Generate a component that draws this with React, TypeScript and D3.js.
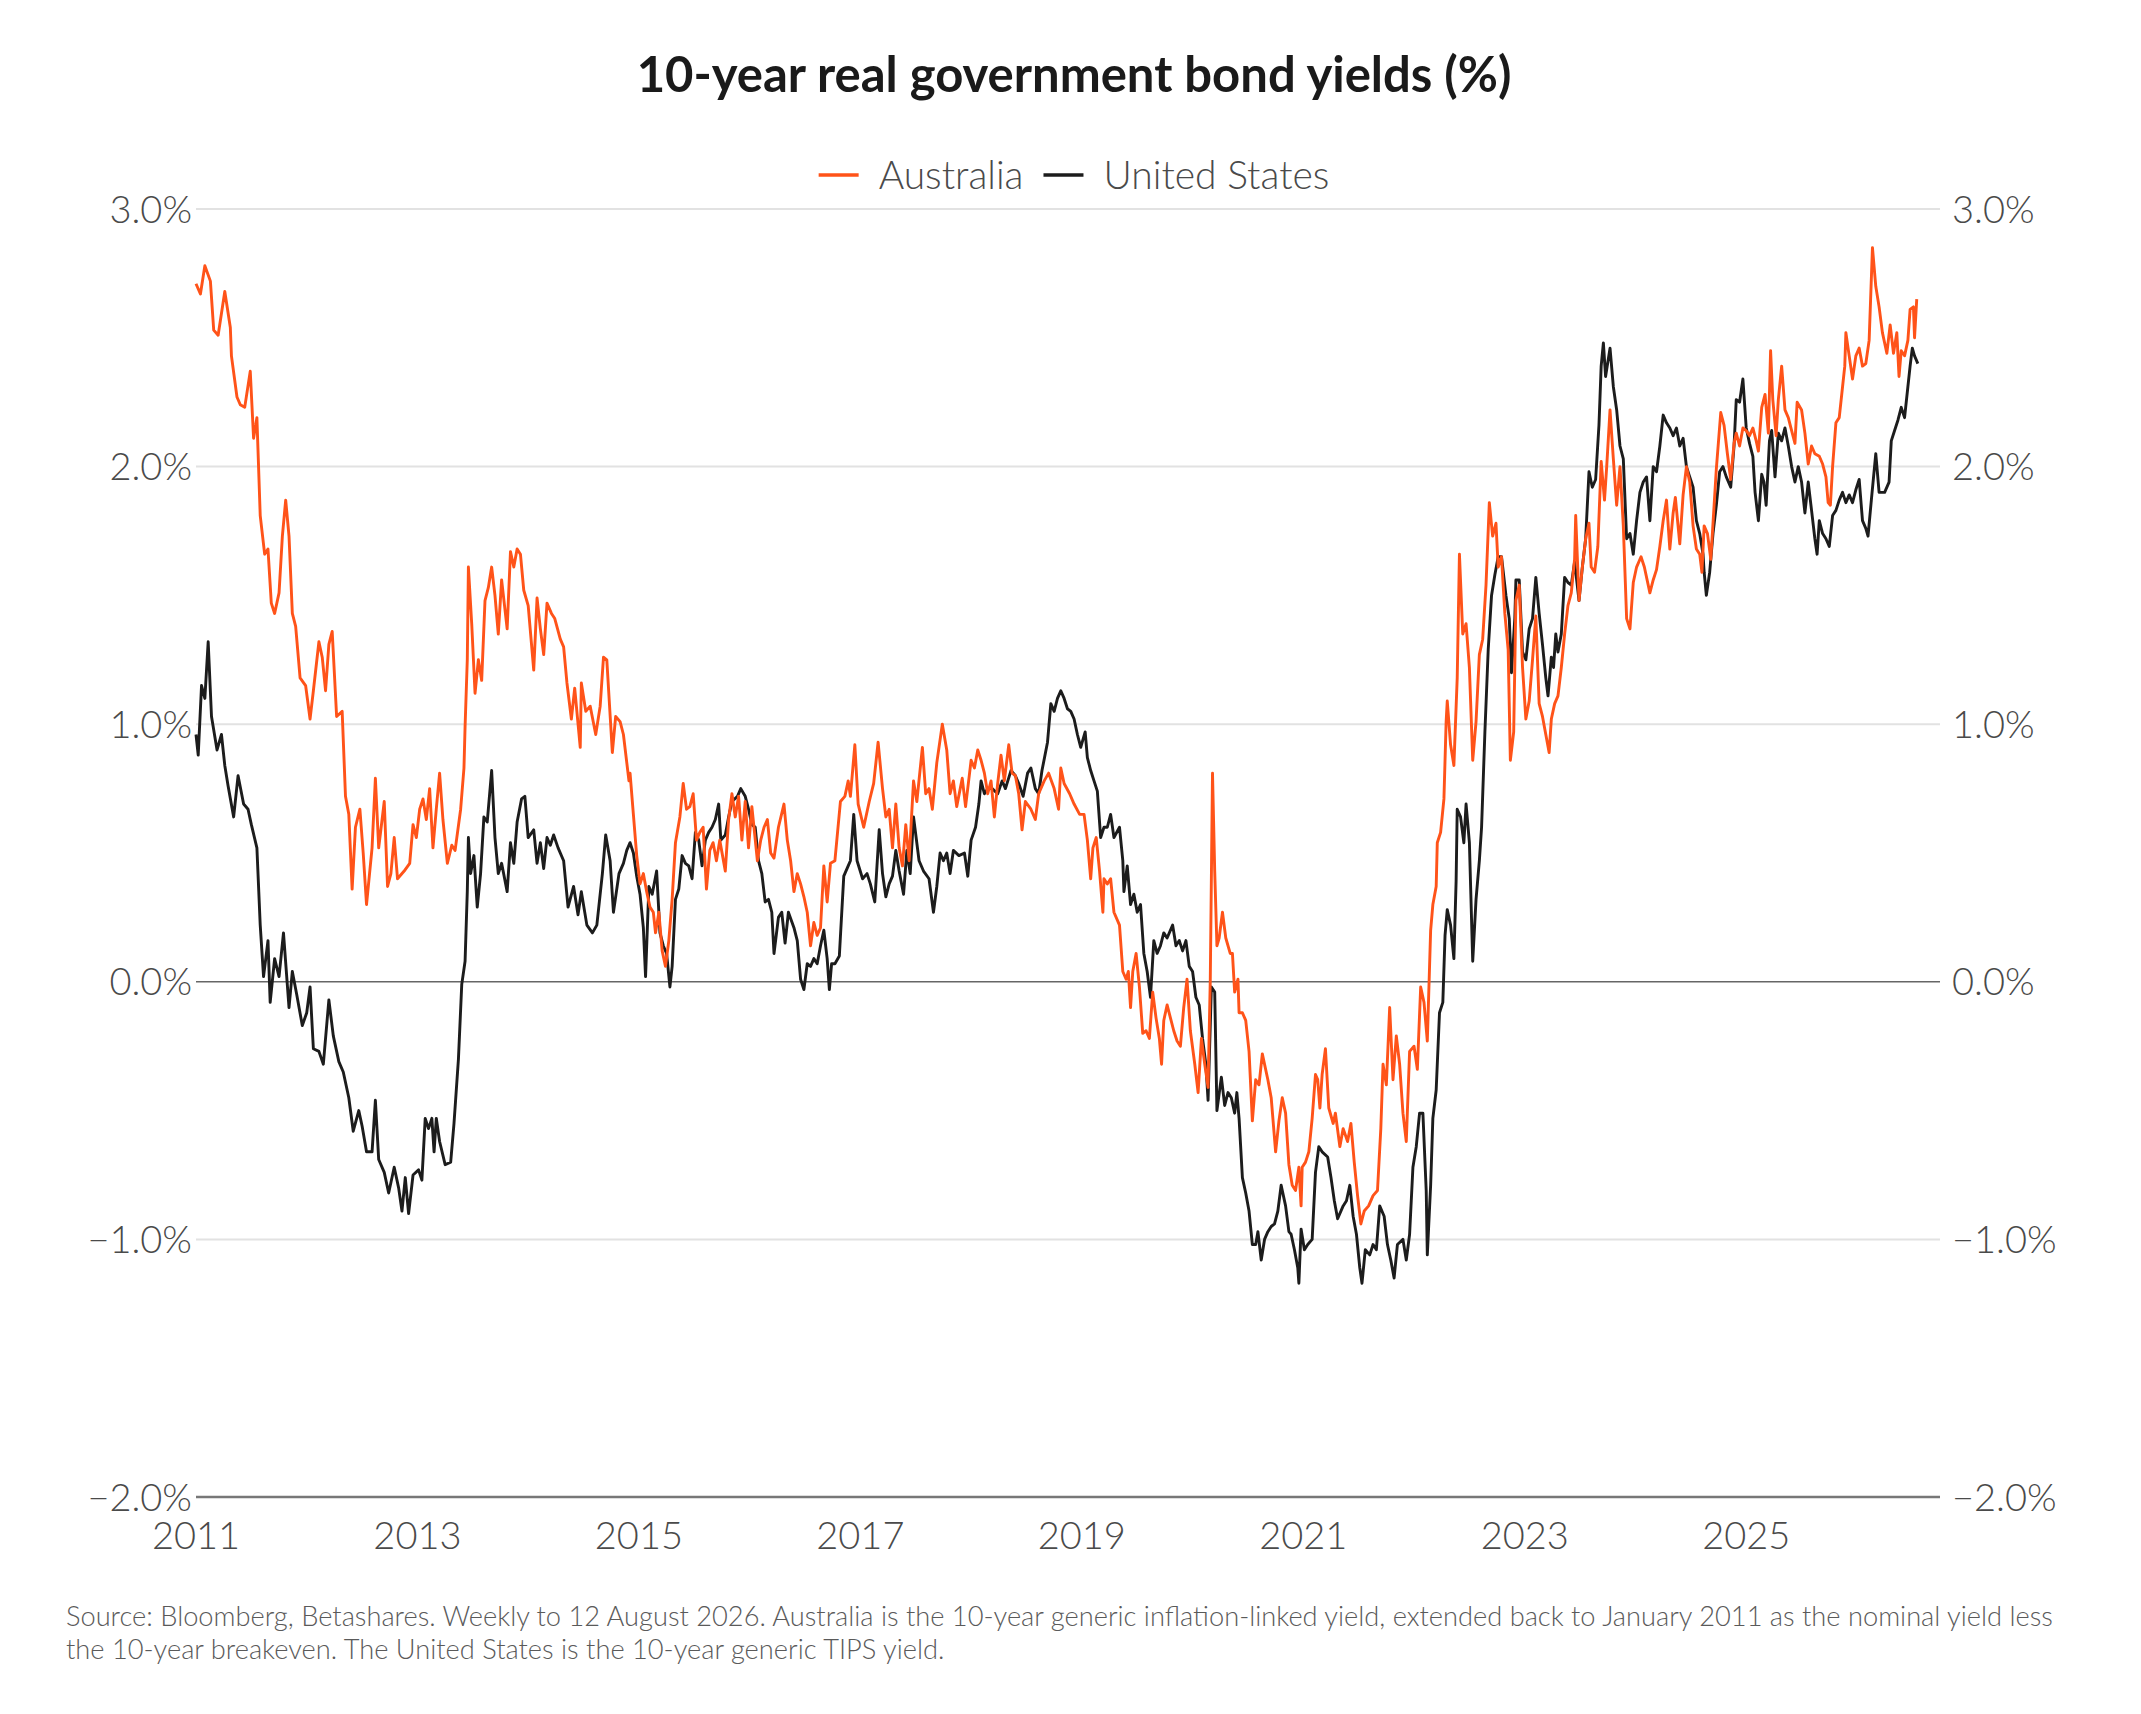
import { useEffect, useRef } from "react";
import * as d3 from "d3";

// decimal year, real yield (%)
const australia: [number, number][] = [
  [2011.0, 2.71], [2011.04, 2.67], [2011.08, 2.78], [2011.13, 2.72], [2011.16, 2.53], [2011.2, 2.51],
  [2011.26, 2.68], [2011.31, 2.54], [2011.32, 2.43], [2011.37, 2.27], [2011.4, 2.24], [2011.44, 2.23],
  [2011.49, 2.37], [2011.52, 2.11], [2011.55, 2.19], [2011.58, 1.81], [2011.62, 1.66], [2011.65, 1.68],
  [2011.68, 1.47], [2011.71, 1.43], [2011.75, 1.51], [2011.78, 1.73], [2011.81, 1.87], [2011.84, 1.73],
  [2011.87, 1.43], [2011.9, 1.38], [2011.94, 1.18], [2011.99, 1.15], [2012.03, 1.02], [2012.06, 1.13],
  [2012.11, 1.32], [2012.14, 1.26], [2012.17, 1.13], [2012.2, 1.31], [2012.23, 1.36], [2012.27, 1.03],
  [2012.32, 1.05], [2012.35, 0.72], [2012.38, 0.65], [2012.41, 0.36], [2012.44, 0.6], [2012.48, 0.67],
  [2012.51, 0.5], [2012.54, 0.3], [2012.59, 0.52], [2012.62, 0.79], [2012.65, 0.52], [2012.7, 0.7],
  [2012.73, 0.37], [2012.76, 0.42], [2012.79, 0.56], [2012.82, 0.4], [2012.88, 0.43],
  [2012.93, 0.46], [2012.96, 0.61], [2012.99, 0.56], [2013.02, 0.67], [2013.05, 0.71], [2013.08, 0.63],
  [2013.11, 0.75], [2013.14, 0.52], [2013.17, 0.67], [2013.2, 0.81], [2013.23, 0.63], [2013.27, 0.46],
  [2013.31, 0.53], [2013.34, 0.51], [2013.39, 0.67], [2013.42, 0.83], [2013.43, 0.99], [2013.45, 1.25],
  [2013.46, 1.61], [2013.49, 1.39], [2013.52, 1.12], [2013.55, 1.25], [2013.58, 1.17], [2013.61, 1.48],
  [2013.64, 1.53], [2013.67, 1.61], [2013.7, 1.5], [2013.73, 1.35], [2013.76, 1.56], [2013.81, 1.37],
  [2013.84, 1.67], [2013.87, 1.61], [2013.9, 1.68], [2013.93, 1.66], [2013.96, 1.52], [2014.0, 1.46],
  [2014.05, 1.21], [2014.08, 1.49], [2014.11, 1.37], [2014.14, 1.27], [2014.17, 1.47], [2014.21, 1.43],
  [2014.24, 1.41], [2014.29, 1.33], [2014.32, 1.3], [2014.35, 1.16], [2014.39, 1.02], [2014.42, 1.14],
  [2014.47, 0.91], [2014.48, 1.16], [2014.52, 1.05], [2014.56, 1.07], [2014.61, 0.96], [2014.65, 1.07],
  [2014.68, 1.26], [2014.71, 1.25], [2014.76, 0.89], [2014.79, 1.03], [2014.83, 1.01], [2014.86, 0.96],
  [2014.91, 0.78], [2014.92, 0.81], [2014.95, 0.65], [2014.98, 0.49], [2015.01, 0.38], [2015.04, 0.42],
  [2015.07, 0.35], [2015.1, 0.29], [2015.13, 0.27], [2015.15, 0.19], [2015.18, 0.27], [2015.21, 0.12],
  [2015.24, 0.06], [2015.27, 0.16], [2015.3, 0.32], [2015.33, 0.54], [2015.37, 0.64], [2015.4, 0.77],
  [2015.43, 0.67], [2015.46, 0.68], [2015.49, 0.73], [2015.52, 0.55], [2015.55, 0.58], [2015.58, 0.6],
  [2015.61, 0.36], [2015.64, 0.51], [2015.67, 0.54], [2015.7, 0.47], [2015.73, 0.55], [2015.78, 0.43],
  [2015.81, 0.63], [2015.84, 0.73], [2015.87, 0.64], [2015.9, 0.72], [2015.93, 0.55], [2015.96, 0.7],
  [2015.99, 0.52], [2016.02, 0.68], [2016.07, 0.47], [2016.1, 0.55], [2016.13, 0.6], [2016.16, 0.63],
  [2016.19, 0.5], [2016.22, 0.48], [2016.26, 0.6], [2016.31, 0.69], [2016.34, 0.55], [2016.37, 0.47],
  [2016.4, 0.35], [2016.43, 0.42], [2016.46, 0.38], [2016.49, 0.33], [2016.52, 0.27], [2016.55, 0.14],
  [2016.58, 0.23], [2016.61, 0.18], [2016.64, 0.21], [2016.67, 0.45], [2016.7, 0.31], [2016.73, 0.46],
  [2016.77, 0.47], [2016.82, 0.7], [2016.86, 0.72], [2016.89, 0.78],
  [2016.91, 0.72], [2016.95, 0.92], [2016.98, 0.69], [2017.03, 0.6], [2017.08, 0.7], [2017.12, 0.77],
  [2017.16, 0.93], [2017.2, 0.75], [2017.23, 0.64], [2017.26, 0.67], [2017.29, 0.52], [2017.32, 0.69],
  [2017.35, 0.52], [2017.38, 0.45], [2017.41, 0.61], [2017.44, 0.47], [2017.48, 0.78], [2017.51, 0.7],
  [2017.56, 0.91], [2017.59, 0.73], [2017.62, 0.75], [2017.65, 0.67], [2017.69, 0.85], [2017.74, 1.0],
  [2017.78, 0.9], [2017.81, 0.73], [2017.84, 0.78], [2017.87, 0.68], [2017.92, 0.79], [2017.95, 0.68],
  [2018.0, 0.86], [2018.03, 0.83], [2018.06, 0.9], [2018.09, 0.86], [2018.12, 0.81], [2018.15, 0.73],
  [2018.18, 0.78], [2018.21, 0.64], [2018.24, 0.77], [2018.27, 0.88], [2018.3, 0.78], [2018.34, 0.92],
  [2018.37, 0.81], [2018.4, 0.8], [2018.43, 0.73], [2018.46, 0.59], [2018.49, 0.7], [2018.54, 0.67],
  [2018.58, 0.63], [2018.61, 0.73], [2018.66, 0.78], [2018.7, 0.81], [2018.75, 0.75], [2018.79, 0.67],
  [2018.81, 0.83], [2018.84, 0.77], [2018.89, 0.73],
  [2018.93, 0.69], [2018.98, 0.65], [2019.02, 0.65], [2019.05, 0.55], [2019.08, 0.4], [2019.1, 0.52],
  [2019.13, 0.56], [2019.16, 0.43], [2019.19, 0.27], [2019.2, 0.4], [2019.23, 0.38], [2019.26, 0.4],
  [2019.29, 0.27], [2019.34, 0.22], [2019.37, 0.04], [2019.4, 0.01], [2019.42, 0.04], [2019.44, -0.1],
  [2019.46, 0.04], [2019.49, 0.11], [2019.52, -0.02], [2019.55, -0.2], [2019.58, -0.19], [2019.61, -0.22],
  [2019.64, -0.04], [2019.67, -0.14], [2019.7, -0.22], [2019.72, -0.32], [2019.74, -0.15], [2019.77, -0.09],
  [2019.8, -0.14], [2019.83, -0.19], [2019.86, -0.23], [2019.89, -0.25], [2019.92, -0.1], [2019.95, 0.01],
  [2019.98, -0.19], [2020.02, -0.32], [2020.05, -0.43], [2020.08, -0.22], [2020.11, -0.32], [2020.14, -0.41],
  [2020.16, 0.01], [2020.18, 0.81], [2020.2, 0.43], [2020.22, 0.14], [2020.24, 0.17], [2020.27, 0.27],
  [2020.3, 0.17], [2020.34, 0.11], [2020.36, 0.11], [2020.38, -0.04], [2020.41, 0.01], [2020.42, -0.12],
  [2020.45, -0.12], [2020.48, -0.15], [2020.51, -0.27], [2020.54, -0.54], [2020.57, -0.38], [2020.6, -0.4],
  [2020.63, -0.28], [2020.68, -0.38], [2020.71, -0.45], [2020.75, -0.66], [2020.78, -0.54], [2020.81, -0.45],
  [2020.84, -0.51], [2020.87, -0.71],
  [2020.9, -0.79], [2020.93, -0.81], [2020.96, -0.72], [2020.98, -0.87], [2020.99, -0.72], [2021.02, -0.7],
  [2021.05, -0.66], [2021.08, -0.53], [2021.11, -0.36], [2021.13, -0.38], [2021.15, -0.49], [2021.17, -0.36],
  [2021.2, -0.26], [2021.23, -0.49], [2021.27, -0.55], [2021.29, -0.51], [2021.33, -0.64], [2021.36, -0.57],
  [2021.4, -0.62], [2021.43, -0.55], [2021.46, -0.7], [2021.49, -0.83], [2021.52, -0.94], [2021.55, -0.89],
  [2021.59, -0.87], [2021.63, -0.83], [2021.67, -0.81], [2021.7, -0.57], [2021.72, -0.32], [2021.75, -0.4],
  [2021.78, -0.1], [2021.81, -0.38], [2021.84, -0.21], [2021.87, -0.32], [2021.9, -0.51], [2021.93, -0.62],
  [2021.96, -0.27], [2022.0, -0.25], [2022.03, -0.34], [2022.06, -0.02], [2022.09, -0.08], [2022.12, -0.23],
  [2022.15, 0.2], [2022.17, 0.3], [2022.2, 0.37], [2022.21, 0.54], [2022.24, 0.58], [2022.27, 0.71],
  [2022.29, 1.01], [2022.3, 1.09], [2022.33, 0.92], [2022.36, 0.84], [2022.39, 1.18], [2022.41, 1.66],
  [2022.44, 1.35], [2022.47, 1.39], [2022.5, 1.22], [2022.53, 0.86], [2022.56, 1.01], [2022.59, 1.27],
  [2022.62, 1.33], [2022.65, 1.54], [2022.68, 1.86], [2022.71, 1.73], [2022.74, 1.78], [2022.76, 1.61],
  [2022.79, 1.65], [2022.82, 1.43], [2022.85, 1.29], [2022.87, 0.86], [2022.9, 0.97],
  [2022.92, 1.48], [2022.95, 1.54], [2022.98, 1.22], [2023.01, 1.02], [2023.04, 1.09], [2023.07, 1.25],
  [2023.1, 1.42], [2023.13, 1.08], [2023.16, 1.03], [2023.19, 0.96], [2023.22, 0.89], [2023.24, 1.02],
  [2023.27, 1.08], [2023.3, 1.11], [2023.33, 1.22], [2023.36, 1.35], [2023.39, 1.46], [2023.42, 1.51],
  [2023.45, 1.64], [2023.46, 1.81], [2023.49, 1.48], [2023.52, 1.61], [2023.55, 1.72], [2023.58, 1.78],
  [2023.6, 1.61], [2023.63, 1.59], [2023.66, 1.69], [2023.69, 2.02], [2023.72, 1.87], [2023.74, 2.0],
  [2023.77, 2.22], [2023.8, 2.03], [2023.83, 1.85], [2023.86, 2.0], [2023.89, 1.77], [2023.92, 1.41],
  [2023.95, 1.37], [2023.98, 1.55], [2024.01, 1.61], [2024.05, 1.65], [2024.08, 1.61], [2024.13, 1.51],
  [2024.16, 1.56], [2024.19, 1.6], [2024.22, 1.69], [2024.25, 1.79], [2024.28, 1.87], [2024.31, 1.68],
  [2024.34, 1.82], [2024.36, 1.88], [2024.4, 1.7], [2024.43, 1.89], [2024.46, 2.0], [2024.49, 1.94],
  [2024.52, 1.77], [2024.55, 1.68], [2024.58, 1.66], [2024.6, 1.59], [2024.62, 1.77], [2024.65, 1.74],
  [2024.68, 1.64], [2024.71, 1.85], [2024.73, 1.99], [2024.77, 2.21], [2024.8, 2.16], [2024.83, 2.05],
  [2024.86, 1.95], [2024.89, 2.09],
  [2024.91, 2.13], [2024.94, 2.08], [2024.97, 2.15], [2025.0, 2.14], [2025.03, 2.12], [2025.06, 2.15],
  [2025.09, 2.1], [2025.11, 2.06], [2025.14, 2.23], [2025.17, 2.28], [2025.2, 2.13], [2025.22, 2.45],
  [2025.24, 2.26], [2025.27, 2.12], [2025.29, 2.26], [2025.32, 2.39], [2025.35, 2.22], [2025.38, 2.19],
  [2025.41, 2.14], [2025.44, 2.09], [2025.46, 2.25], [2025.5, 2.22], [2025.53, 2.13], [2025.56, 2.01],
  [2025.59, 2.08], [2025.62, 2.05], [2025.66, 2.04], [2025.69, 2.01], [2025.72, 1.96], [2025.74, 1.86],
  [2025.76, 1.85], [2025.78, 2.0], [2025.81, 2.17], [2025.84, 2.19], [2025.87, 2.31], [2025.89, 2.39],
  [2025.9, 2.52], [2025.93, 2.43], [2025.96, 2.34], [2025.99, 2.43], [2026.02, 2.46], [2026.05, 2.39],
  [2026.08, 2.4], [2026.11, 2.49], [2026.14, 2.85], [2026.17, 2.7], [2026.2, 2.62], [2026.23, 2.52],
  [2026.27, 2.44], [2026.3, 2.55], [2026.33, 2.44], [2026.36, 2.52], [2026.38, 2.35], [2026.4, 2.45],
  [2026.43, 2.43], [2026.46, 2.49], [2026.48, 2.61], [2026.51, 2.62], [2026.52, 2.5], [2026.54, 2.65],
];

const unitedStates: [number, number][] = [
  [2011.0, 0.96], [2011.02, 0.88], [2011.05, 1.15], [2011.08, 1.1], [2011.11, 1.32], [2011.14, 1.03],
  [2011.19, 0.9], [2011.23, 0.96], [2011.26, 0.84], [2011.29, 0.76], [2011.34, 0.64], [2011.38, 0.8],
  [2011.43, 0.69], [2011.47, 0.67], [2011.5, 0.61], [2011.55, 0.52], [2011.58, 0.22], [2011.61, 0.02],
  [2011.65, 0.16], [2011.67, -0.08], [2011.71, 0.09], [2011.75, 0.02], [2011.79, 0.19], [2011.84, -0.1],
  [2011.87, 0.04], [2011.91, -0.05], [2011.96, -0.17], [2012.0, -0.12], [2012.03, -0.02], [2012.06, -0.26],
  [2012.11, -0.27], [2012.15, -0.32], [2012.2, -0.07], [2012.24, -0.21], [2012.29, -0.31], [2012.33, -0.35],
  [2012.38, -0.45], [2012.42, -0.58], [2012.47, -0.5], [2012.5, -0.56], [2012.54, -0.66], [2012.59, -0.66],
  [2012.62, -0.46], [2012.65, -0.69], [2012.7, -0.74], [2012.74, -0.82], [2012.79, -0.72], [2012.83, -0.8],
  [2012.86, -0.89], [2012.89, -0.76], [2012.92, -0.9],
  [2012.96, -0.75], [2013.01, -0.73], [2013.04, -0.77], [2013.07, -0.53], [2013.1, -0.57], [2013.13, -0.53],
  [2013.15, -0.66], [2013.17, -0.53], [2013.2, -0.62], [2013.25, -0.71], [2013.3, -0.7], [2013.33, -0.55],
  [2013.37, -0.3], [2013.4, -0.01], [2013.43, 0.08], [2013.45, 0.35], [2013.46, 0.56], [2013.48, 0.42],
  [2013.51, 0.49], [2013.54, 0.29], [2013.57, 0.42], [2013.6, 0.64], [2013.63, 0.62], [2013.67, 0.82],
  [2013.7, 0.56], [2013.73, 0.42], [2013.76, 0.46], [2013.81, 0.35], [2013.84, 0.54], [2013.87, 0.46],
  [2013.9, 0.62], [2013.94, 0.71], [2013.97, 0.72], [2014.0, 0.56], [2014.05, 0.59], [2014.08, 0.46],
  [2014.11, 0.54], [2014.14, 0.44], [2014.17, 0.56], [2014.2, 0.53], [2014.23, 0.57], [2014.27, 0.52],
  [2014.32, 0.47], [2014.36, 0.29], [2014.41, 0.37], [2014.45, 0.26], [2014.48, 0.35], [2014.53, 0.22],
  [2014.58, 0.19], [2014.62, 0.22], [2014.67, 0.42], [2014.7, 0.57], [2014.74, 0.47], [2014.77, 0.27],
  [2014.82, 0.42], [2014.86, 0.46], [2014.89, 0.51],
  [2014.92, 0.54], [2014.95, 0.5], [2014.98, 0.41], [2015.01, 0.34], [2015.04, 0.21], [2015.06, 0.02],
  [2015.09, 0.37], [2015.12, 0.34], [2015.16, 0.43], [2015.19, 0.19], [2015.22, 0.14], [2015.25, 0.11],
  [2015.28, -0.02], [2015.3, 0.06], [2015.33, 0.32], [2015.36, 0.36], [2015.39, 0.49], [2015.42, 0.46],
  [2015.45, 0.45], [2015.48, 0.4], [2015.51, 0.58], [2015.54, 0.55], [2015.57, 0.45], [2015.6, 0.55],
  [2015.63, 0.58], [2015.66, 0.6], [2015.69, 0.63], [2015.72, 0.69], [2015.74, 0.55], [2015.78, 0.57],
  [2015.81, 0.64], [2015.84, 0.7], [2015.89, 0.72], [2015.92, 0.75], [2015.96, 0.72], [2015.99, 0.67],
  [2016.02, 0.61], [2016.05, 0.6], [2016.08, 0.47], [2016.11, 0.42], [2016.14, 0.31], [2016.17, 0.32],
  [2016.2, 0.27], [2016.22, 0.11], [2016.26, 0.25], [2016.29, 0.27], [2016.32, 0.15], [2016.35, 0.27],
  [2016.4, 0.21], [2016.43, 0.16], [2016.46, 0.01], [2016.49, -0.03], [2016.52, 0.07], [2016.55, 0.06],
  [2016.58, 0.09], [2016.61, 0.07], [2016.64, 0.14], [2016.67, 0.2], [2016.7, 0.09], [2016.72, -0.03],
  [2016.74, 0.07], [2016.77, 0.07], [2016.81, 0.1], [2016.85, 0.41], [2016.89, 0.45],
  [2016.91, 0.47], [2016.94, 0.65], [2016.97, 0.47], [2017.02, 0.4], [2017.06, 0.42], [2017.09, 0.38],
  [2017.13, 0.31], [2017.17, 0.59], [2017.2, 0.42], [2017.23, 0.33], [2017.26, 0.38], [2017.29, 0.41],
  [2017.32, 0.51], [2017.35, 0.43], [2017.39, 0.34], [2017.42, 0.51], [2017.45, 0.42], [2017.48, 0.64],
  [2017.53, 0.47], [2017.57, 0.43], [2017.62, 0.4], [2017.66, 0.27], [2017.69, 0.37], [2017.72, 0.5],
  [2017.75, 0.47], [2017.78, 0.5], [2017.81, 0.42], [2017.84, 0.51], [2017.89, 0.49], [2017.94, 0.5],
  [2017.97, 0.41], [2018.0, 0.55], [2018.04, 0.6], [2018.07, 0.69], [2018.09, 0.78], [2018.12, 0.73],
  [2018.15, 0.75], [2018.19, 0.75], [2018.24, 0.73], [2018.28, 0.78], [2018.31, 0.75], [2018.36, 0.82],
  [2018.4, 0.8], [2018.43, 0.77], [2018.47, 0.72], [2018.51, 0.81], [2018.54, 0.83], [2018.58, 0.75],
  [2018.61, 0.73], [2018.64, 0.82], [2018.69, 0.93], [2018.72, 1.08], [2018.75, 1.05], [2018.78, 1.1],
  [2018.81, 1.13], [2018.84, 1.1], [2018.87, 1.06],
  [2018.9, 1.05], [2018.93, 1.02], [2018.96, 0.96], [2018.99, 0.91], [2019.03, 0.97], [2019.05, 0.87],
  [2019.08, 0.82], [2019.11, 0.78], [2019.14, 0.74], [2019.17, 0.56], [2019.2, 0.6], [2019.23, 0.6],
  [2019.26, 0.65], [2019.29, 0.56], [2019.34, 0.6], [2019.37, 0.47], [2019.38, 0.35], [2019.41, 0.45],
  [2019.44, 0.3], [2019.47, 0.34], [2019.5, 0.27], [2019.53, 0.3], [2019.56, 0.11], [2019.59, 0.04],
  [2019.62, -0.06], [2019.65, 0.16], [2019.68, 0.11], [2019.71, 0.14], [2019.74, 0.19], [2019.77, 0.17],
  [2019.82, 0.22], [2019.85, 0.14], [2019.88, 0.16], [2019.91, 0.12], [2019.94, 0.16], [2019.97, 0.06],
  [2020.0, 0.04], [2020.03, -0.06], [2020.06, -0.09], [2020.09, -0.22], [2020.12, -0.32], [2020.14, -0.46],
  [2020.17, -0.02], [2020.2, -0.04], [2020.22, -0.5], [2020.26, -0.37], [2020.29, -0.48], [2020.32, -0.43],
  [2020.35, -0.45], [2020.38, -0.51], [2020.4, -0.43], [2020.42, -0.53], [2020.45, -0.76], [2020.48, -0.82],
  [2020.51, -0.89], [2020.54, -1.02], [2020.57, -1.02], [2020.59, -0.97], [2020.62, -1.08], [2020.65, -1.0],
  [2020.68, -0.97], [2020.71, -0.95], [2020.74, -0.94], [2020.77, -0.89], [2020.8, -0.79], [2020.84, -0.87],
  [2020.87, -0.97],
  [2020.89, -0.98], [2020.92, -1.04], [2020.95, -1.11], [2020.96, -1.17], [2020.98, -0.96], [2021.01, -1.04],
  [2021.04, -1.02], [2021.08, -1.0], [2021.11, -0.74], [2021.14, -0.64], [2021.17, -0.66], [2021.22, -0.68],
  [2021.25, -0.76], [2021.28, -0.85], [2021.31, -0.92], [2021.36, -0.87], [2021.39, -0.85], [2021.42, -0.79],
  [2021.45, -0.91], [2021.48, -0.98], [2021.51, -1.11], [2021.53, -1.17], [2021.56, -1.04], [2021.6, -1.06],
  [2021.63, -1.02], [2021.66, -1.04], [2021.69, -0.87], [2021.73, -0.91], [2021.76, -1.02], [2021.79, -1.08],
  [2021.82, -1.15], [2021.85, -1.02], [2021.9, -1.0], [2021.93, -1.08], [2021.96, -0.98], [2021.99, -0.72],
  [2022.02, -0.64], [2022.05, -0.51], [2022.08, -0.51], [2022.11, -0.81], [2022.12, -1.06], [2022.15, -0.79],
  [2022.17, -0.53], [2022.2, -0.42], [2022.23, -0.12], [2022.26, -0.08], [2022.28, 0.18], [2022.3, 0.28],
  [2022.33, 0.22], [2022.36, 0.09], [2022.38, 0.39], [2022.39, 0.67], [2022.42, 0.64], [2022.45, 0.54],
  [2022.47, 0.69], [2022.5, 0.54], [2022.53, 0.08], [2022.56, 0.32], [2022.59, 0.47], [2022.61, 0.6],
  [2022.64, 0.97], [2022.67, 1.29], [2022.7, 1.5], [2022.73, 1.58], [2022.76, 1.65], [2022.79, 1.65],
  [2022.83, 1.5], [2022.86, 1.41], [2022.88, 1.2], [2022.91, 1.41],
  [2022.92, 1.56], [2022.95, 1.56], [2022.98, 1.28], [2023.01, 1.25], [2023.04, 1.37], [2023.07, 1.41],
  [2023.1, 1.57], [2023.13, 1.43], [2023.16, 1.31], [2023.19, 1.18], [2023.21, 1.11], [2023.24, 1.26],
  [2023.26, 1.22], [2023.28, 1.35], [2023.3, 1.28], [2023.33, 1.35], [2023.36, 1.57], [2023.39, 1.55],
  [2023.42, 1.54], [2023.45, 1.63], [2023.49, 1.48], [2023.52, 1.61], [2023.55, 1.72], [2023.58, 1.98],
  [2023.61, 1.92], [2023.64, 1.95], [2023.67, 2.16], [2023.69, 2.39], [2023.71, 2.48], [2023.73, 2.35],
  [2023.77, 2.46], [2023.8, 2.31], [2023.83, 2.22], [2023.86, 2.08], [2023.89, 2.03], [2023.92, 1.72],
  [2023.95, 1.74], [2023.98, 1.66], [2024.01, 1.79], [2024.04, 1.9], [2024.07, 1.94], [2024.1, 1.96],
  [2024.13, 1.79], [2024.16, 2.0], [2024.19, 1.98], [2024.22, 2.08], [2024.25, 2.2], [2024.28, 2.17],
  [2024.31, 2.15], [2024.34, 2.12], [2024.37, 2.15], [2024.4, 2.08], [2024.43, 2.11], [2024.46, 2.0],
  [2024.49, 1.96], [2024.52, 1.92], [2024.55, 1.79], [2024.58, 1.74], [2024.61, 1.66], [2024.62, 1.59],
  [2024.64, 1.5], [2024.67, 1.59], [2024.7, 1.74], [2024.73, 1.85], [2024.76, 1.98], [2024.79, 2.0],
  [2024.82, 1.96], [2024.86, 1.92], [2024.89, 2.08],
  [2024.91, 2.26], [2024.94, 2.25], [2024.97, 2.34], [2025.0, 2.15], [2025.03, 2.09], [2025.06, 2.04],
  [2025.08, 1.9], [2025.11, 1.79], [2025.14, 1.97], [2025.16, 1.94], [2025.18, 1.85], [2025.21, 2.1],
  [2025.23, 2.14], [2025.26, 1.96], [2025.29, 2.13], [2025.32, 2.1], [2025.35, 2.15], [2025.38, 2.08],
  [2025.41, 2.0], [2025.44, 1.94], [2025.47, 2.0], [2025.5, 1.94], [2025.53, 1.82], [2025.56, 1.94],
  [2025.59, 1.83], [2025.62, 1.72], [2025.64, 1.66], [2025.66, 1.79], [2025.69, 1.74], [2025.72, 1.72],
  [2025.75, 1.69], [2025.78, 1.81], [2025.81, 1.83], [2025.84, 1.87], [2025.87, 1.9], [2025.9, 1.86],
  [2025.93, 1.89], [2025.96, 1.86], [2025.99, 1.91], [2026.02, 1.95], [2026.05, 1.79], [2026.08, 1.76],
  [2026.1, 1.73], [2026.13, 1.87], [2026.17, 2.05], [2026.2, 1.9], [2026.25, 1.9], [2026.29, 1.94],
  [2026.31, 2.1], [2026.34, 2.14], [2026.37, 2.18], [2026.4, 2.23], [2026.43, 2.19], [2026.46, 2.31],
  [2026.48, 2.39], [2026.5, 2.46], [2026.52, 2.43], [2026.55, 2.4],
];

const yTicks = [3, 2, 1, 0, -1, -2];
const xTickYears = [2011, 2013, 2015, 2017, 2019, 2021, 2023, 2025];
const seriesNames = ["Australia", "United States"];
const seriesColors = ["#ff5319", "#1c1c1c"];

const title = "10-year real government bond yields (%)";
const sourceLines = [
  "Source: Bloomberg, Betashares. Weekly to 12 August 2026. Australia is the 10-year generic inflation-linked yield, extended back to January 2011 as the nominal yield less",
  "the 10-year breakeven. The United States is the 10-year generic TIPS yield.",
];

const WIDTH = 2141;
const HEIGHT = 1714;
const FONT = "Lato, 'Noto Sans', sans-serif";

export default function App() {
  const svgRef = useRef<SVGSVGElement>(null);

  useEffect(() => {
    document.body.style.margin = "0";
    if (!svgRef.current) return;

    const svg = d3.select(svgRef.current);
    svg.selectAll("*").remove();
    svg.attr("width", WIDTH).attr("height", HEIGHT).style("background", "#fff");

    const left = 196;
    const right = 1940;

    const xScale = d3.scaleLinear().domain([2011, 2026.75]).range([left, right]);
    const yScale = d3.scaleLinear().domain([-2, 3]).range([1497, 209]);

    // title
    svg
      .append("text")
      .attr("x", 1074)
      .attr("y", 92)
      .attr("text-anchor", "middle")
      .attr("font-family", FONT)
      .attr("font-weight", 700)
      .attr("font-size", 49)
      .attr("fill", "#1a1a1a")
      .text(title);

    // grid lines
    svg
      .append("g")
      .selectAll("line")
      .data(yTicks)
      .join("line")
      .attr("x1", left)
      .attr("x2", right)
      .attr("y1", (d) => yScale(d))
      .attr("y2", (d) => yScale(d))
      .attr("stroke", (d) => (d === 0 ? "#666" : d === -2 ? "#777" : "#e2e2e2"))
      .attr("stroke-width", (d) => (d === -2 ? 2.5 : d === 0 ? 1.5 : 2));

    const fmt = (d: number) => d3.format(".1f")(d) + "%";

    // left and right y labels
    const yLabels = svg
      .append("g")
      .attr("font-family", FONT)
      .attr("font-weight", 300)
      .attr("font-size", 38)
      .attr("fill", "#4a4a4a");
    yLabels
      .selectAll("text.l")
      .data(yTicks)
      .join("text")
      .attr("class", "l")
      .attr("x", left - 4)
      .attr("y", (d) => yScale(d))
      .attr("dy", "0.36em")
      .attr("text-anchor", "end")
      .text(fmt);
    yLabels
      .selectAll("text.r")
      .data(yTicks)
      .join("text")
      .attr("class", "r")
      .attr("x", 1952)
      .attr("y", (d) => yScale(d))
      .attr("dy", "0.36em")
      .attr("text-anchor", "start")
      .text(fmt);

    // x labels
    svg
      .append("g")
      .attr("font-family", FONT)
      .attr("font-weight", 300)
      .attr("font-size", 38)
      .attr("fill", "#4a4a4a")
      .selectAll("text")
      .data(xTickYears)
      .join("text")
      .attr("x", (d) => xScale(d))
      .attr("y", 1549)
      .attr("text-anchor", "middle")
      .text((d) => String(d));

    // lines
    const line = d3
      .line<[number, number]>()
      .x((d) => xScale(d[0]))
      .y((d) => yScale(d[1]))
      .curve(d3.curveLinear);

    const series = [unitedStates, australia];
    const colors = [seriesColors[1], seriesColors[0]];
    series.forEach((s, i) => {
      svg
        .append("path")
        .datum(s)
        .attr("fill", "none")
        .attr("stroke", colors[i])
        .attr("stroke-width", 2.9)
        .attr("stroke-linejoin", "round")
        .attr("d", line);
    });

    // legend
    const legend = svg
      .append("g")
      .attr("font-family", FONT)
      .attr("font-weight", 300)
      .attr("font-size", 39)
      .attr("fill", "#4a4a4a");
    let cursor = 0;
    seriesNames.forEach((name, i) => {
      legend
        .append("line")
        .attr("x1", cursor)
        .attr("x2", cursor + 40)
        .attr("y1", 0)
        .attr("y2", 0)
        .attr("stroke", seriesColors[i])
        .attr("stroke-width", 3.5);
      const t = legend
        .append("text")
        .attr("x", cursor + 60)
        .attr("y", 0)
        .attr("dy", "0.36em")
        .text(name);
      const w = (t.node() as SVGTextElement).getComputedTextLength();
      cursor += 60 + w + 20;
    });
    const legendWidth = cursor - 20;
    legend.attr("transform", `translate(${1074 - legendWidth / 2},175)`);

    // source note, sized so the first line spans the same width as the original
    const source = svg
      .append("g")
      .attr("font-family", FONT)
      .attr("font-weight", 300)
      .attr("font-size", 24)
      .attr("fill", "#5a5a5a");
    const sourceText = source
      .selectAll("text")
      .data(sourceLines)
      .join("text")
      .attr("x", 66)
      .attr("y", (_, i) => 1626 + i * 33)
      .text((d) => d);
    const firstWidth = (sourceText.node() as SVGTextElement).getComputedTextLength();
    if (firstWidth > 0) source.attr("font-size", 24 * (1987 / firstWidth));
  }, []);

  return <svg ref={svgRef} style={{ display: "block" }} />;
}
